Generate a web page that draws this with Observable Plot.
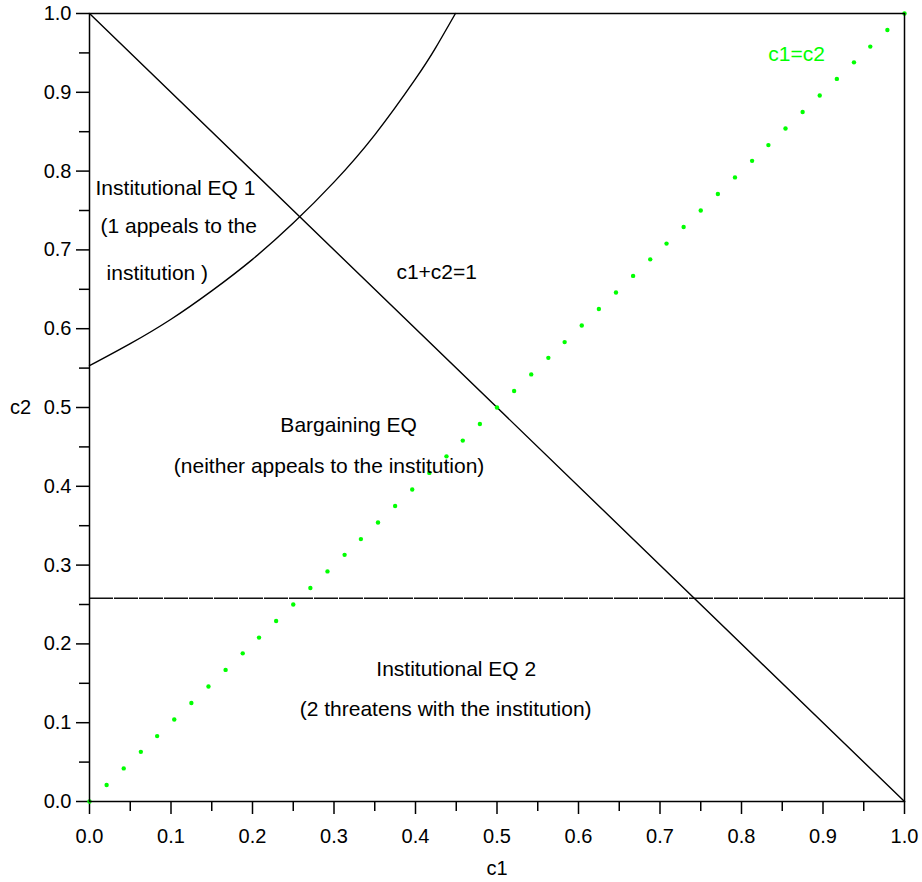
<!DOCTYPE html>
<html><head><meta charset="utf-8">
<script src="https://cdn.jsdelivr.net/npm/d3@7"></script>
<script src="https://cdn.jsdelivr.net/npm/@observablehq/plot@0.6"></script>
<style>html,body{margin:0;padding:0;background:#fff}#chart svg{display:block}</style>
</head><body><div id="chart"></div>
<script>
// tick values
const majorTicks = [0, 0.1, 0.2, 0.3, 0.4, 0.5, 0.6, 0.7, 0.8, 0.9, 1.0];
const minorTicks = [0.05, 0.15, 0.25, 0.35, 0.45, 0.55, 0.65, 0.75, 0.85, 0.95];

// c1 + c2 = 1 boundary
const sumLineC1 = [0, 1];
const sumLineC2 = [1, 0];

// Institutional EQ 1 boundary curve (smoothed)
const curveC1 = [0, 0.05, 0.1, 0.15, 0.2, 0.25, 0.3, 0.35, 0.4, 0.425, 0.449];
const curveC2 = [0.553, 0.581, 0.612, 0.648, 0.688, 0.734, 0.786, 0.846, 0.917, 0.957, 1.0];

// Institutional EQ 2 threshold
const thresholdC2 = [0.258];

// c1 = c2 dotted line points
const diagC = [0, 0.021, 0.042, 0.063, 0.083, 0.104, 0.125, 0.146, 0.167, 0.188, 0.208, 0.229, 0.25,
  0.271, 0.292, 0.313, 0.333, 0.354, 0.375, 0.396, 0.417, 0.438, 0.458, 0.479, 0.5,
  0.521, 0.542, 0.563, 0.583, 0.604, 0.625, 0.646, 0.667, 0.688, 0.708, 0.729, 0.75,
  0.771, 0.792, 0.813, 0.833, 0.854, 0.875, 0.896, 0.917, 0.938, 0.958, 0.979, 1.0];

// region annotations (data coordinates)
const leftNotes = ["Institutional EQ 1", "(1 appeals to the", "institution )"];
const leftNotesC1 = [0.0074, 0.0135, 0.0209];
const leftNotesC2 = [0.778, 0.730, 0.670];
const centerNotes = ["c1+c2=1", "Bargaining EQ", "(neither appeals to the institution)", "Institutional EQ 2", "(2 threatens with the institution)"];
const centerNotesC1 = [0.426, 0.318, 0.294, 0.450, 0.437];
const centerNotesC2 = [0.671, 0.477, 0.426, 0.168, 0.117];
const diagLabel = ["c1=c2"];
const diagLabelC1 = [0.8675];
const diagLabelC2 = [0.948];

const curve = curveC1.map((c, i) => ({c1: c, c2: curveC2[i]}));
const sumLine = sumLineC1.map((c, i) => ({c1: c, c2: sumLineC2[i]}));
const left = leftNotes.map((t, i) => ({t, c1: leftNotesC1[i], c2: leftNotesC2[i]}));
const center = centerNotes.map((t, i) => ({t, c1: centerNotesC1[i], c2: centerNotesC2[i]}));
const dl = diagLabel.map((t, i) => ({t, c1: diagLabelC1[i], c2: diagLabelC2[i]}));

const FONT = "'Liberation Sans', Arial, Helvetica, sans-serif";
const GREEN = "#00ff00";

const chart = Plot.plot({
  width: 922,
  height: 882,
  marginLeft: 89,
  marginRight: 18,
  marginTop: 13,
  marginBottom: 81,
  style: {fontFamily: FONT, fontSize: "20px", background: "#fff", color: "#000"},
  x: {domain: [0, 1]},
  y: {domain: [0, 1]},
  marks: [
    Plot.axisX({ticks: majorTicks, tickSize: 13, tickPadding: 14, strokeWidth: 1.5, tickFormat: d3.format(".1f"), fontSize: 20, label: null}),
    Plot.axisX({ticks: minorTicks, tickSize: 10, strokeWidth: 1.5, fill: "none", label: null}),
    Plot.axisY({ticks: majorTicks, tickSize: 13, tickPadding: 5, strokeWidth: 1.5, tickFormat: d3.format(".1f"), fontSize: 20, label: null}),
    Plot.axisY({ticks: minorTicks, tickSize: 10, strokeWidth: 1.5, fill: "none", label: null}),
    Plot.ruleY(thresholdC2, {stroke: "#111", strokeWidth: 1.4, strokeDasharray: "24,1"}),
    Plot.line(sumLine, {x: "c1", y: "c2", stroke: "#000", strokeWidth: 1.4}),
    Plot.line(curve, {x: "c1", y: "c2", stroke: "#000", strokeWidth: 1.4, curve: "natural"}),
    Plot.dot(diagC, {x: d => d, y: d => d, r: 2.2, fill: GREEN, stroke: null}),
    Plot.frame({stroke: "#000", strokeWidth: 1.5}),
    Plot.text(left, {x: "c1", y: "c2", text: "t", textAnchor: "start", fontSize: 21, fill: "#000"}),
    Plot.text(center, {x: "c1", y: "c2", text: "t", textAnchor: "middle", fontSize: 21, fill: "#000"}),
    Plot.text(dl, {x: "c1", y: "c2", text: "t", textAnchor: "middle", fontSize: 21, fill: GREEN}),
    Plot.text(["c1"], {frameAnchor: "bottom", lineAnchor: "middle", dy: 67, fontSize: 20, fill: "#000"}),
    Plot.text(["c2"], {frameAnchor: "left", dx: -69, textAnchor: "middle", fontSize: 20, fill: "#000"})
  ]
});
document.getElementById("chart").appendChild(chart);
</script>
</body></html>
